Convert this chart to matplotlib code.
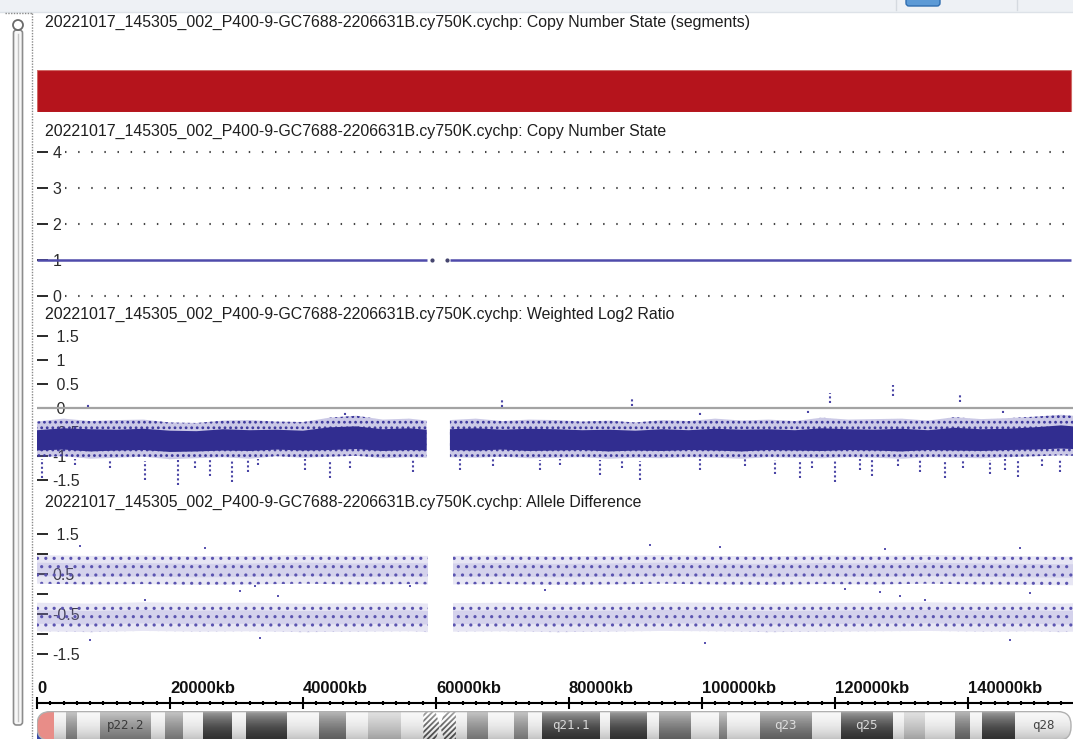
import matplotlib
matplotlib.use("Agg")
import numpy as np
import matplotlib.pyplot as plt
from matplotlib.patches import Rectangle, FancyBboxPatch, Circle, Polygon

plt.rcParams['font.family'] = ['Liberation Sans', 'DejaVu Sans']

W, H = 1073, 739

sample = "20221017_145305_002_P400-9-GC7688-2206631B.cy750K.cychp"
track_names = ["Copy Number State (segments)", "Copy Number State",
               "Weighted Log2 Ratio", "Allele Difference"]

view_end = 155800  # kb shown in the window

# --- Copy number segments (kb) ---
seg_start = [0]
seg_end = [155500]

# --- Copy number state ---
cn_start = [0, 62100]
cn_end = [58650, 155500]
cn_value = [1, 1]
cn_lone_kb = [59400, 61650]
cn_lone_val = [1, 1]
cn_ticks = [0, 1, 2, 3, 4]
cn_grid = [0, 2, 3, 4]

# --- Weighted log2 ratio, band envelope per bin (kb) ---
lr_kb = [0, 4000, 8000, 12000, 16000, 20000, 24000, 28000, 32000, 36000, 40000,
         44000, 48000, 52000, 56000, 58600, np.nan,
         62100, 66000, 70000, 74000, 78000, 82000, 86000, 90000, 94000, 98000,
         102000, 106000, 110000, 114000, 118000, 122000, 126000, 130000, 134000,
         138000, 142000, 146000, 150000, 154000, 155800]
lr_core_hi = [-0.46, -0.42, -0.44, -0.45, -0.43, -0.47, -0.48, -0.44, -0.46, -0.45, -0.47,
              -0.40, -0.38, -0.44, -0.42, -0.45, np.nan,
              -0.44, -0.42, -0.45, -0.43, -0.44, -0.46, -0.45, -0.47, -0.44, -0.46,
              -0.43, -0.45, -0.44, -0.46, -0.42, -0.44, -0.45, -0.43, -0.46,
              -0.41, -0.44, -0.43, -0.40, -0.36, -0.38]
lr_core_lo = [-0.88, -0.86, -0.90, -0.88, -0.87, -0.91, -0.90, -0.88, -0.89, -0.86, -0.88,
              -0.87, -0.85, -0.89, -0.87, -0.88, np.nan,
              -0.87, -0.88, -0.86, -0.89, -0.88, -0.87, -0.90, -0.88, -0.89, -0.87,
              -0.88, -0.90, -0.87, -0.88, -0.89, -0.87, -0.88, -0.90, -0.87,
              -0.88, -0.89, -0.87, -0.86, -0.84, -0.85]
lr_spread_hi = [-0.28, -0.22, -0.27, -0.25, -0.24, -0.30, -0.31, -0.26, -0.25, -0.28, -0.29,
                -0.20, -0.16, -0.24, -0.22, -0.26, np.nan,
                -0.25, -0.22, -0.27, -0.24, -0.25, -0.28, -0.26, -0.30, -0.25, -0.27,
                -0.22, -0.26, -0.24, -0.27, -0.20, -0.24, -0.23, -0.22, -0.26,
                -0.19, -0.23, -0.21, -0.18, -0.14, -0.16]
lr_spread_lo = [-1.02, -1.00, -1.05, -1.03, -1.01, -1.06, -1.04, -1.02, -1.05, -1.00, -1.03,
                -1.01, -0.99, -1.04, -1.02, -1.03, np.nan,
                -1.02, -1.03, -1.01, -1.04, -1.03, -1.02, -1.05, -1.03, -1.04, -1.02,
                -1.03, -1.05, -1.02, -1.03, -1.04, -1.02, -1.03, -1.05, -1.02,
                -1.03, -1.04, -1.02, -1.00, -0.98, -0.99]
# isolated probe streaks (kb, top, bottom)
lr_streak_kb = [128740, 138820, 119270, 89490, 69940, 7670, 115960, 145290, 99700, 46300,
                750, 5700, 10980, 16240, 21200, 23760, 26020, 29330, 31730, 33240,
                40310, 44070, 47080, 56550, 63620, 68580, 75650, 78660, 84680, 87980,
                90690, 99710, 106480, 111000, 114760, 116560, 120020, 123780, 125580,
                129490, 132800, 136560, 139270, 143330, 145590, 147540, 151150, 153860]
lr_streak_hi = [0.48, 0.31, 0.31, 0.21, 0.17, 0.08, -0.02, -0.02, -0.08, -0.08,
                -1.05, -1.05, -1.05, -1.10, -1.08, -1.05, -1.08, -1.10, -1.05, -1.05,
                -1.05, -1.10, -1.05, -1.05, -1.05, -1.05, -1.08, -1.05, -1.08, -1.05,
                -1.10, -1.05, -1.05, -1.08, -1.10, -1.05, -1.10, -1.05, -1.08,
                -1.05, -1.05, -1.10, -1.05, -1.08, -1.05, -1.10, -1.05, -1.05]
lr_streak_lo = [0.25, 0.12, 0.10, 0.04, 0.02, 0.02, -0.10, -0.10, -0.14, -0.14,
                -1.45, -1.18, -1.24, -1.49, -1.59, -1.24, -1.41, -1.53, -1.33, -1.18,
                -1.28, -1.45, -1.24, -1.33, -1.28, -1.20, -1.28, -1.18, -1.39, -1.24,
                -1.49, -1.28, -1.20, -1.37, -1.45, -1.24, -1.53, -1.28, -1.41,
                -1.20, -1.33, -1.45, -1.24, -1.37, -1.28, -1.43, -1.20, -1.33]
lr_ticks = [1.5, 1, 0.5, 0, -0.5, -1, -1.5]
lr_labels = [' 1.5', ' 1', ' 0.5', ' 0', '-0.5', '-1', '-1.5']

# --- Allele difference, band centres per bin (kb) ---
ad_kb = [0, 8000, 16000, 24000, 32000, 40000, 48000, 56000, 58800, np.nan,
         62560, 70000, 78000, 86000, 94000, 102000, 110000, 118000, 126000, 134000,
         142000, 150000, 154000, 155800]
ad_upper = [0.62, 0.60, 0.61, 0.59, 0.60, 0.62, 0.60, 0.61, 0.60, np.nan,
            0.60, 0.61, 0.59, 0.60, 0.62, 0.60, 0.59, 0.61, 0.60, 0.62,
            0.60, 0.59, 0.58, 0.58]
ad_lower = [-0.58, -0.60, -0.57, -0.59, -0.58, -0.60, -0.59, -0.58, -0.60, np.nan,
            -0.59, -0.58, -0.60, -0.59, -0.57, -0.58, -0.60, -0.59, -0.58, -0.57,
            -0.59, -0.58, -0.60, -0.59]
ad_core_half = 0.17
ad_outer_half = 0.36
ad_out_kb = [6470, 25270, 30530, 16240, 36250, 32790, 56100, 76400, 92200, 102700,
             127500, 147800, 126800, 129800, 133600, 121500, 149300, 7970, 100470,
             146300, 33540]
ad_out_val = [1.21, 1.16, 0.08, -0.15, -0.05, 0.20, 0.20, 0.10, 1.23, 1.18,
              1.13, 1.16, 0.05, -0.05, -0.15, 0.13, 0.03, -1.16, -1.23, -1.16, -1.11]
ad_ticks = [1.5, 1, 0.5, 0, -0.5, -1, -1.5]
ad_labels = [' 1.5', '', '0.5', '', '-0.5', '', '-1.5']

# --- Ruler ---
ruler_ticks = [0, 20000, 40000, 60000, 80000, 100000, 120000, 140000]
ruler_labels = ['0', '20000kb', '40000kb', '60000kb', '80000kb',
                '100000kb', '120000kb', '140000kb']

# --- chrX ideogram bands (kb) ---
band_names = ['p22.33', 'p22.32', 'p22.31', 'p22.2', 'p22.13', 'p22.12', 'p22.11',
              'p21.3', 'p21.2', 'p21.1', 'p11.4', 'p11.3', 'p11.23', 'p11.22',
              'p11.21', 'p11.1', 'q11.1', 'q11.2', 'q12', 'q13.1', 'q13.2', 'q13.3',
              'q21.1', 'q21.2', 'q21.31', 'q21.32', 'q21.33', 'q22.1', 'q22.2',
              'q22.3', 'q23', 'q24', 'q25', 'q26.1', 'q26.2', 'q26.3', 'q27.1',
              'q27.2', 'q27.3', 'q28']
band_start = [0, 4300, 6000, 9500, 17100, 19200, 21900, 24900, 29300, 31500, 37600,
              42400, 46400, 49800, 54800, 58100, 60600, 63000, 64600, 67800, 71800,
              73900, 76000, 84600, 86200, 91800, 93500, 98300, 102600, 103700,
              108700, 116500, 120900, 128700, 130400, 133600, 138000, 140300,
              142100, 147100]
chrom_end = 155500
band_stain = ['gneg', 'gpos50', 'gneg', 'gpos50', 'gneg', 'gpos50', 'gneg',
              'gpos100', 'gneg', 'gpos100', 'gneg', 'gpos75', 'gneg', 'gpos25',
              'gneg', 'acen', 'acen', 'gneg', 'gpos50', 'gneg', 'gpos50', 'gneg',
              'gpos100', 'gneg', 'gpos100', 'gneg', 'gpos75', 'gneg', 'gpos50',
              'gneg', 'gpos75', 'gneg', 'gpos100', 'gneg', 'gpos25', 'gneg',
              'gpos75', 'gneg', 'gpos100', 'gneg']
labelled_bands = ['p22.2', 'q21.1', 'q23', 'q25', 'q28']
par1_end = 2600

stain_color = {'gneg': '#f0f0f0', 'gpos25': '#c6c6c6', 'gpos50': '#8e8e8e',
               'gpos75': '#747474', 'gpos100': '#3d3d3d', 'acen': '#ffffff'}
label_color = {'gneg': '#444444', 'gpos50': '#3a3a3a', 'gpos75': '#dddddd',
               'gpos100': '#d8d8d8', 'gpos25': '#333333'}

fig = plt.figure(figsize=(W / 100, H / 100), dpi=100)


def px_axes(x0, y0, x1, y1):
    return fig.add_axes([x0 / W, 1 - y1 / H, (x1 - x0) / W, (y1 - y0) / H])


# background / window chrome in pixel coordinates
bg = fig.add_axes([0, 0, 1, 1])
bg.set_xlim(0, W)
bg.set_ylim(H, 0)
bg.axis('off')
bg.add_patch(Rectangle((0, 0), W, 12, fc='#eef1f5', ec='none'))
bg.plot([0, W], [12, 12], color='#dde2e8', lw=1)
bg.add_patch(FancyBboxPatch((906, -4), 34, 10, boxstyle="round,pad=0,rounding_size=3",
                            fc='#5c9ad6', ec='#2f6db0', lw=1))
bg.plot([896, 896], [0, 10], color='#d5dae0', lw=1)
bg.plot([1017, 1017], [0, 10], color='#d5dae0', lw=1)
bg.plot([5, 32], [13, 13], color='#8a8a8a', lw=1, ls=(0, (1, 1)))
bg.plot([32, 32], [13, H], color='#8a8a8a', lw=1, ls=(0, (1, 1)))
bg.add_patch(FancyBboxPatch((13.5, 30), 9, 695, boxstyle="round,pad=0,rounding_size=3",
                            fc='#f7f7f7', ec='#8c8c8c', lw=1.2))
bg.plot([18, 18], [34, 721], color='#c2c2c2', lw=1)
bg.add_patch(Circle((18, 25), 5, fc='white', ec='#6a6a6a', lw=1.3))

title_y = [22, 131, 314, 502]
for ty, name in zip(title_y, track_names):
    bg.text(45, ty, sample + ": " + name, fontsize=11.4, color='#1e1e1e', va='center')


def style_track(ax, ticks, labels, ylim):
    ax.set_xlim(0, view_end)
    ax.set_ylim(*ylim)
    ax.patch.set_alpha(0)
    for s in ax.spines.values():
        s.set_visible(False)
    ax.set_xticks([])
    ax.set_yticks(ticks)
    ax.set_yticklabels(labels)
    ax.tick_params(axis='y', direction='in', length=8, width=1.4, pad=-11,
                   labelsize=11.5, colors='#2a2a2a')
    plt.setp(ax.get_yticklabels(), ha='left')
    ax.set_axisbelow(True)


# track 1: segments
ax_seg = px_axes(37, 70, 1073, 112)
ax_seg.barh([0.5] * len(seg_start), [e - s for s, e in zip(seg_start, seg_end)],
            left=seg_start, height=1, color='#b5141c', edgecolor='#cf6a66', lw=0.8)
ax_seg.set_xlim(0, view_end)
ax_seg.set_ylim(0, 1)
ax_seg.axis('off')

# track 2: copy number state
ax_cn = px_axes(37, 145, 1073, 300)
style_track(ax_cn, cn_ticks, [str(t) for t in cn_ticks], (-0.111, 4.194))
ax_cn.hlines(cn_grid, 4200, view_end, colors='#444444', lw=1.5,
             linestyles=[(0, (0.7, 5.6))])
for s, e, v in zip(cn_start, cn_end, cn_value):
    ax_cn.plot([s, e], [v, v], color='#4f4bab', lw=1.8, solid_capstyle='butt')
ax_cn.plot(cn_lone_kb, cn_lone_val, 'o', ms=2.0, color='#44446e', lw=0)

# track 3: weighted log2 ratio
ax_lr = px_axes(37, 325, 1073, 492)
style_track(ax_lr, lr_ticks, lr_labels, (-1.739, 1.718))
ax_lr.axhline(0, color='#a3a3a3', lw=1.6, zorder=0.8)
ax_lr.fill_between(lr_kb, lr_spread_lo, lr_spread_hi, color='#6a65b8', alpha=0.35, lw=0)
with plt.rc_context({'hatch.linewidth': 1.2}):
    ax_lr.fill_between(lr_kb, lr_spread_lo, lr_spread_hi, facecolor='none',
                       edgecolor='#3b369c', hatch='...', lw=0)
ax_lr.fill_between(lr_kb, lr_core_lo, lr_core_hi, color='#312d90', lw=0)
ax_lr.vlines(lr_streak_kb, lr_streak_lo, lr_streak_hi, colors='#4a45a5', lw=1.5,
             linestyles=[(0, (1, 1.2))])

# track 4: allele difference
ax_ad = px_axes(37, 515, 1073, 670)
style_track(ax_ad, ad_ticks, ad_labels, (-1.914, 1.99))
for centre in (ad_upper, ad_lower):
    c = np.array(centre, dtype=float)
    ax_ad.fill_between(ad_kb, c - ad_outer_half, c + ad_outer_half, color='#8a84cc',
                       alpha=0.2, lw=0)
    ax_ad.fill_between(ad_kb, c - ad_core_half, c + ad_core_half, color='#8a84cc',
                       alpha=0.2, lw=0)
    with plt.rc_context({'hatch.linewidth': 1.1}):
        ax_ad.fill_between(ad_kb, c - ad_outer_half, c + ad_outer_half, facecolor='none',
                           edgecolor='#5b54b0', hatch='..', lw=0)
ax_ad.scatter(ad_out_kb, ad_out_val, s=4, marker='s', color='#5a53b0', lw=0)

# ruler
ax_r = px_axes(37, 703, 1073, 712)
ax_r.set_xlim(0, view_end)
ax_r.set_ylim(0, 1)
ax_r.patch.set_alpha(0)
for s in ['left', 'right', 'bottom']:
    ax_r.spines[s].set_visible(False)
ax_r.spines['top'].set_linewidth(1.5)
ax_r.set_yticks([])
ax_r.xaxis.tick_top()
ax_r.set_xticks(ruler_ticks)
ax_r.set_xticklabels(ruler_labels, fontweight='bold', fontsize=12, ha='left', color='#111111')
ax_r.set_xticks(np.arange(0, view_end, 2000), minor=True)
ax_r.tick_params(axis='x', which='major', direction='inout', length=8, width=1.5, pad=1)
ax_r.tick_params(axis='x', which='minor', direction='inout', length=2.5, width=1.5)

# ideogram
ax_i = px_axes(37, 711, 1073, 741)
ax_i.set_xlim(0, view_end)
ax_i.set_ylim(0, 1)
ax_i.axis('off')
aspect = 1.0 / (150.4 * 30)
outline = FancyBboxPatch((0, 0.02), chrom_end, 0.96, boxstyle="round,pad=0,rounding_size=2000",
                         mutation_aspect=aspect, fc='none', ec='#b0b0b0', lw=1, zorder=5)
ax_i.add_patch(outline)
band_end = band_start[1:] + [chrom_end]
widths = [e - s for s, e in zip(band_start, band_end)]
bars = ax_i.bar(band_start, [1] * len(band_start), width=widths, bottom=0, align='edge',
                color=[stain_color[s] for s in band_stain], lw=0)
for b in bars:
    b.set_clip_path(outline)

cen = [i for i, s in enumerate(band_stain) if s == 'acen']
cs, cm, ce = band_start[cen[0]], band_start[cen[1]], band_end[cen[1]]
with plt.rc_context({'hatch.linewidth': 1.3}):
    left = Polygon([(cs, 0), (cs, 1), (cm - 700, 1), (cm, 0.5), (cm - 700, 0)],
                   fc='white', ec='#555555', hatch='//////', lw=0, zorder=2)
    right = Polygon([(ce, 0), (ce, 1), (cm + 700, 1), (cm, 0.5), (cm + 700, 0)],
                    fc='white', ec='#555555', hatch='//////', lw=0, zorder=2)
ax_i.add_patch(left)
ax_i.add_patch(right)

n = 60
t = np.linspace(0, 1, n)
shine = np.zeros((n, 1, 4))
shine[:, 0, :3] = 1.0
shine[:, 0, 3] = 0.55 * (1 - t) ** 2
shade = np.zeros((n, 1, 4))
shade[:, 0, 3] = 0.22 * t ** 2.5
for img in (shine, shade):
    im = ax_i.imshow(img, extent=[0, chrom_end, 0, 1], aspect='auto', zorder=3,
                     interpolation='bilinear')
    im.set_clip_path(outline)
ax_i.set_xlim(0, view_end)
ax_i.set_ylim(0, 1)

# pseudo-autosomal tip drawn over the shading so it keeps its colour
par = ax_i.bar([0], [1], width=[par1_end], align='edge', color='#e88d88', lw=0, zorder=4)
par[0].set_clip_path(outline)

for name, s, e, st in zip(band_names, band_start, band_end, band_stain):
    if name in labelled_bands:
        ax_i.text((s + e) / 2, 0.52, name, ha='center', va='center', fontsize=9,
                  family='DejaVu Sans Mono', color=label_color[st], zorder=6)

bg.add_patch(Rectangle((37, 727), 13, 13, fc='#3848a8', ec='none', zorder=10))
bg.text(43.5, 734, 'X', color='white', fontsize=9, fontweight='bold', ha='center',
        va='center', zorder=11)
bg.set_zorder(-1)

fig.savefig('out.png', dpi=100)
